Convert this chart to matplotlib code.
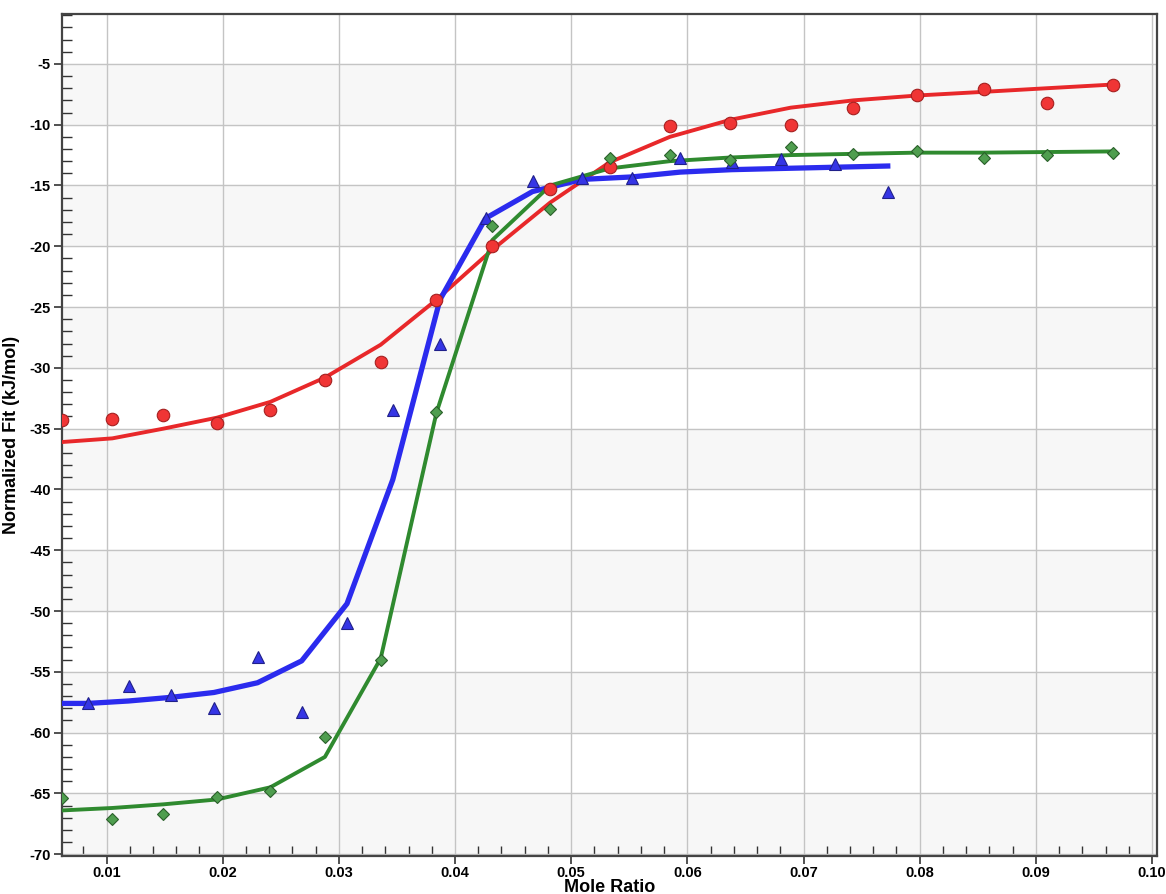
import matplotlib
matplotlib.use('agg')
import matplotlib.pyplot as plt
from matplotlib.ticker import MultipleLocator, FormatStrFormatter

plt.rcParams['font.family'] = ['Liberation Sans', 'DejaVu Sans']
plt.rcParams['axes.unicode_minus'] = False

# shared injection x positions (red / green series)
x_rg = [0.0062, 0.0105, 0.0149, 0.0195, 0.0241, 0.0288, 0.0336, 0.0384, 0.0432, 0.0482,
        0.0533, 0.0585, 0.0637, 0.0689, 0.0743, 0.0798, 0.0855, 0.0910, 0.0966]

red_pts = [-34.3, -34.2, -33.9, -34.5, -33.5, -31.0, -29.5, -24.4, -20.0, -15.3,
           -13.5, -10.1, -9.9, -10.0, -8.6, -7.6, -7.1, -8.2, -6.7]
red_fit = [-36.1, -35.8, -35.0, -34.1, -32.8, -30.8, -28.1, -24.4, -20.3, -16.4,
           -13.1, -11.0, -9.6, -8.6, -8.0, -7.6, -7.3, -7.0, -6.7]

green_pts = [-65.4, -67.1, -66.7, -65.3, -64.8, -60.4, -54.0, -33.6, -18.3, -16.9,
             -12.7, -12.5, -12.9, -11.8, -12.4, -12.2, -12.7, -12.5, -12.3]
green_fit = [-66.4, -66.2, -65.9, -65.5, -64.5, -62.0, -53.9, -33.7, -19.5, -15.0,
             -13.6, -13.0, -12.7, -12.5, -12.4, -12.3, -12.3, -12.25, -12.2]

# blue series
x_b = [0.0084, 0.0119, 0.01555, 0.01925, 0.0230, 0.0268, 0.0307, 0.03464, 0.0387, 0.04263,
       0.04667, 0.05095, 0.0552, 0.0594, 0.0638, 0.0681, 0.0727, 0.07725]
blue_pts = [-57.6, -56.2, -56.9, -58.0, -53.8, -58.3, -51.0, -33.5, -28.0, -17.7,
            -14.6, -14.4, -14.4, -12.7, -13.1, -12.8, -13.2, -15.5]
x_bfit = [0.0062] + x_b
blue_fit = [-57.6, -57.6, -57.4, -57.1, -56.7, -55.9, -54.1, -49.4, -39.2, -24.4, -17.7,
            -15.5, -14.5, -14.3, -13.9, -13.7, -13.6, -13.5, -13.4]

fig = plt.figure(figsize=(11.66, 8.94), dpi=100)
ax = fig.add_axes([0.0532, 0.0425, 0.9391, 0.9418])

# alternating bands
for lo in range(-70, 0, 10):
    ax.axhspan(lo, lo + 5, color='#f7f7f7', zorder=0)

ax.grid(True, which='major', color='#c4c4c4', linewidth=1.0, zorder=1)
ax.set_axisbelow(True)

ax.plot(x_rg, red_fit, color='#e8282a', lw=2.8, zorder=3)
ax.plot(x_bfit, blue_fit, color='#2b2bee', lw=3.8, zorder=3)
ax.plot(x_rg, green_fit, color='#2f8a2f', lw=2.8, zorder=3)

ax.plot(x_rg, red_pts, 'o', ms=9, mfc='#f03535', mec='#a52020', mew=0.8, zorder=4)
ax.plot(x_b, blue_pts, '^', ms=9, mfc='#3535e5', mec='#20208a', mew=0.8, zorder=4)
ax.plot(x_rg, green_pts, 'D', ms=6.5, mfc='#4f9e4f', mec='#2a602a', mew=0.8, zorder=4)

ax.set_xlim(0.00617, 0.10043)
ax.set_ylim(-70.15, -0.9)

ax.xaxis.set_major_locator(MultipleLocator(0.01))
ax.xaxis.set_minor_locator(MultipleLocator(0.002))
ax.yaxis.set_major_locator(MultipleLocator(5))
ax.yaxis.set_minor_locator(MultipleLocator(1))
ax.xaxis.set_major_formatter(FormatStrFormatter('%.2f'))
ax.yaxis.set_major_formatter(FormatStrFormatter('%d'))

ax.tick_params(which='major', direction='out', length=6, width=1.2, color='#333333',
               labelsize=10.5, pad=2)
ax.tick_params(axis='x', which='major', pad=1)
ax.tick_params(which='minor', direction='in', length=7, width=1.0, color='#333333')
for lab in ax.get_xticklabels() + ax.get_yticklabels():
    lab.set_fontweight('bold')

for s in ax.spines.values():
    s.set_color('#444444')
    s.set_linewidth(1.6)

ax.set_xlabel('Mole Ratio', fontsize=13, fontweight='bold', va='baseline')
ax.set_ylabel('Normalized Fit (kJ/mol)', fontsize=13, fontweight='bold')
ax.xaxis.set_label_coords(0.5, -0.0425)
ax.yaxis.set_label_coords(-0.0385, 0.5)

plt.savefig('out.png')
